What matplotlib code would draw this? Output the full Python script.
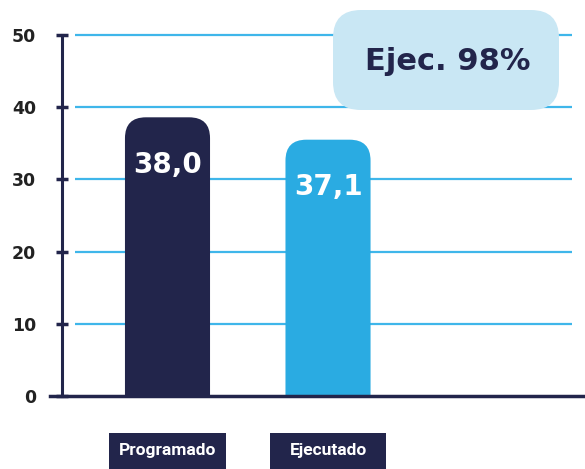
import matplotlib.pyplot as plt
from matplotlib.patches import FancyBboxPatch, Rectangle
from matplotlib.transforms import IdentityTransform

categorias = ['Programado', 'Ejecutado']
valores = [38.6, 35.5]          # altura visual de las barras
etiquetas = ['38,0', '37,1']
colores = ['#22254b', '#2aabe2']
texto_ejec = 'Ejec. 98%'
ticks_y = [0, 10, 20, 30, 40, 50]

navy = '#22254b'
fig = plt.figure(figsize=(5.85, 4.69), dpi=100)
ax = fig.add_axes([50/585, 73/469, 535/585, 361/469])
ax.set_xlim(-0.732, 2.601)
ax.set_ylim(0, 50)

# lineas de grilla
for t in ticks_y[1:]:
    ax.hlines(t, -0.576, 2.52, color='#3fb6ea', lw=1.6, zorder=1, clip_on=False)

# barras con esquinas superiores redondeadas
ancho = 0.53
px_x = 160.5
px_y = 361 / 50
aspecto = px_x / px_y
for i, (v, c) in enumerate(zip(valores, colores)):
    p = FancyBboxPatch((i - ancho/2, -5), ancho, v + 5,
                       boxstyle='round,pad=0,rounding_size=0.13',
                       mutation_aspect=aspecto, fc=c, ec='none', zorder=2)
    ax.add_patch(p)
    ax.text(i, v - 6.6, etiquetas[i], ha='center', va='center', color='white',
            fontsize=20, fontweight='bold', family='DejaVu Sans', zorder=3)

# ejes
for s in ['top', 'right']:
    ax.spines[s].set_visible(False)
ax.spines['left'].set_position(('data', -0.657))
ax.spines['left'].set_color(navy)
ax.spines['left'].set_linewidth(2.2)
ax.spines['bottom'].set_visible(False)
ax.axhline(0, color=navy, lw=2.5, zorder=4, clip_on=False)
ax.set_yticks(ticks_y)
ax.set_yticklabels([str(t) for t in ticks_y], fontsize=12.5, fontweight='bold',
                   family='DejaVu Sans', color='#222222')
ax.tick_params(axis='y', direction='inout', length=9, width=2.5, color=navy, pad=14)
ax.set_xticks([])

# cajas de categorias
for i, cat in enumerate(categorias):
    r = Rectangle((i - 0.3615, -0.21), 0.723, 0.107, transform=ax.get_xaxis_transform(),
                  fc=navy, ec='none', clip_on=False)
    ax.add_patch(r)
    ax.text(i, -0.152, cat, transform=ax.get_xaxis_transform(), ha='center', va='center',
            color='white', fontsize=12.5, fontweight='bold', family='Roboto')

# recuadro de ejecucion
caja = FancyBboxPatch((333, 469 - 110), 226, 100, boxstyle='round,pad=0,rounding_size=28',
                      transform=IdentityTransform(), fc='#c9e7f4', ec='none', zorder=5)
fig.patches.append(caja)
fig.text(448/585, 1 - 61/469, texto_ejec, ha='center', va='center', color=navy,
         fontsize=22, fontweight='bold', family='DejaVu Sans', zorder=6)

fig.savefig('out.png', dpi=100)
